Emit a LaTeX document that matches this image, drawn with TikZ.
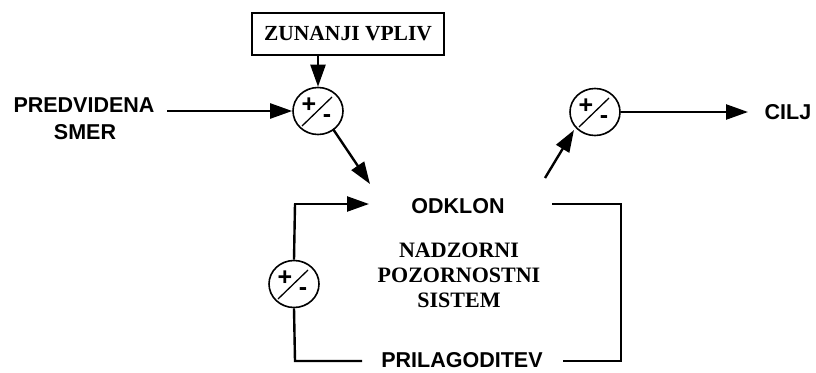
\documentclass[tikz,border=0pt]{standalone}
\usepackage{fontspec}
\usetikzlibrary{arrows.meta,shapes.geometric}
\newfontfamily\sansb[]{Liberation Sans Bold}
\newfontfamily\serifb[]{Liberation Serif Bold}
\tikzset{
  conn/.style={line width=2.4pt},
  arr/.style={conn,-{Triangle[length=22pt,width=15pt]}},
  sumnode/.style={draw,ellipse,line width=1.6pt,minimum width=50pt,minimum height=47pt,inner sep=0pt},
  lbl/.style={font=\sansb\fontsize{21.5}{24}\selectfont,inner sep=0pt},
  slbl/.style={font=\serifb\fontsize{22}{25}\selectfont,inner sep=0pt,align=center},
  pm/.style={font=\sansb\fontsize{25}{25}\selectfont,inner sep=0pt}
}
\begin{document}
\begin{tikzpicture}[x=1pt,y=-1pt]
\path[use as bounding box,fill=white] (0,0) rectangle (816,372);
% external influence box
\node[draw,line width=2.4pt,minimum width=192pt,minimum height=42pt,inner sep=0pt,
      font=\serifb\fontsize{21.5}{24}\selectfont] (zv) at (348,34) {ZUNANJI VPLIV};
% summing junctions
\node[sumnode] (s1) at (318,111) {};
\node[sumnode] (s2) at (595,112) {};
\node[sumnode] (s3) at (294,284) {};
\foreach \s in {s1,s2,s3}{
  \draw[line width=1.3pt] ([shift={(-16,15)}]\s.center) -- ([shift={(14,-14)}]\s.center);
  \node[pm] at ([shift={(-9,-6)}]\s.center) {+};
  \node[pm] at ([shift={(9,8)}]\s.center) {-};
}
% texts
\node[lbl] (pred) at (84,105) {PREDVIDENA};
\node[lbl] (smer) at (85,132) {SMER};
\node[lbl] (odk) at (458,206) {ODKLON};
\node[lbl] (pril) at (462,360) {PRILAGODITEV};
\node[lbl] (cilj) at (788,112) {CILJ};
\node[slbl] (nps) at (459,275) {NADZORNI\\POZORNOSTNI\\SISTEM};
% coordinates
\coordinate (pin) at (167,111);
\coordinate (a1s) at (333,129);
\coordinate (a1e) at (370,184);
\coordinate (a2s) at (545,178);
\coordinate (a2e) at (574,130);
\coordinate (cout) at (748,112);
\coordinate (lt) at (295,204);
\coordinate (ltend) at (369,204);
\coordinate (lb) at (295,361);
\coordinate (lbend) at (362,361);
\coordinate (rt0) at (552,204);
\coordinate (rt) at (621,204);
\coordinate (rb) at (621,361);
\coordinate (rbend) at (563,361);
% connectors
\draw[arr] (zv.south -| s1.north) -- (s1.north);
\draw[arr] (pin) -- (s1.west);
\draw[arr] (a1s) -- (a1e);
\draw[arr] (a2s) -- (a2e);
\draw[arr] (s2.east) -- (cout);
\draw[conn] (s3.north) -- (lt);
\draw[arr] ([xshift=-1.2pt]lt) -- (ltend);
\draw[conn] (s3.south) -- (lb) -- (lbend);
\draw[conn] (rt0) -- (rt) -- (rb) -- (rbend);
\end{tikzpicture}
\end{document}
